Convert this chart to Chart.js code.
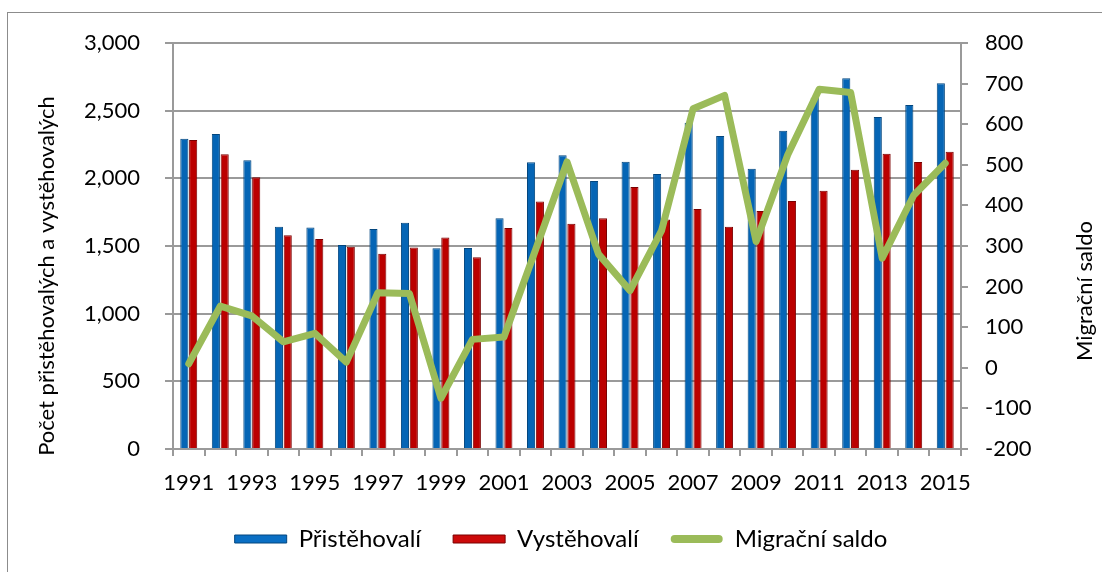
<!DOCTYPE html>
<html>
<head>
<meta charset="utf-8">
<script src="https://cdn.jsdelivr.net/npm/chart.js@4.4.0/dist/chart.umd.min.js"></script>
<style>
    body { margin: 0; overflow: hidden; background: #fff; }
    #wrap { position: relative; width: 1102px; height: 572px; }
    #frame { position: absolute; left: 7px; top: 12px; right: -10px; bottom: -10px; border: 1px solid #8c8c8c; }
    canvas { position: absolute; left: 0; top: 0; }
</style>
</head>
<body>
<div id="wrap">
    <div id="frame"></div>
    <canvas id="migraceChart" width="1102" height="572"></canvas>
</div>
<script>
const years = ['1991', '1992', '1993', '1994', '1995', '1996', '1997', '1998', '1999', '2000',
    '2001', '2002', '2003', '2004', '2005', '2006', '2007', '2008', '2009', '2010',
    '2011', '2012', '2013', '2014', '2015'];
const pristehovali = [2292, 2328, 2133, 1643, 1636, 1508, 1626, 1672, 1483, 1485,
    1705, 2119, 2171, 1981, 2123, 2032, 2411, 2313, 2071, 2352,
    2595, 2739, 2453, 2542, 2702];
const vystehovali = [2284, 2178, 2008, 1579, 1552, 1495, 1443, 1488, 1562, 1417,
    1633, 1828, 1665, 1705, 1936, 1695, 1774, 1643, 1759, 1833,
    1909, 2064, 2182, 2121, 2197];
const saldo = [10, 152, 128, 64, 85, 14, 185, 183, -75, 70,
    76, 290, 507, 280, 190, 338, 638, 671, 311, 524,
    686, 678, 270, 425, 504];
const leftTitle = 'Počet přistěhovalých a vystěhovalých';
const rightTitle = 'Migrační saldo';

const FONT = 'Lato';
const gridColor = '#9a9a9a';
// legend colours by dataset index: saldo, přistěhovalí, vystěhovalí
const legendFill = ['#9bbb59', '#0a6fc4', '#cc0a0a'];

// titles drawn by hand so they can sit off-centre like in the original
const axisTitles = {
    id: 'axisTitles',
    afterDraw(chart) {
        const c = chart.ctx;
        c.save();
        c.font = `22px ${FONT}`;
        c.fillStyle = '#000';
        c.textAlign = 'center';
        c.textBaseline = 'middle';
        [[leftTitle, 47, 276], [rightTitle, 1085, 291]].forEach(([t, x, y]) => {
            c.save();
            c.translate(x, y);
            c.rotate(-Math.PI / 2);
            c.fillText(t, 0, 0);
            c.restore();
        });
        c.restore();
    }
};

new Chart(document.getElementById('migraceChart'), {
    data: {
        labels: years,
        datasets: [
            {
                type: 'line',
                label: 'Migrační saldo',
                data: saldo,
                yAxisID: 'y2',
                borderColor: '#9bbb59',
                backgroundColor: '#9bbb59',
                borderWidth: 7,
                borderJoinStyle: 'round',
                borderCapStyle: 'round',
                pointRadius: 0,
                tension: 0,
                order: 0
            },
            {
                type: 'bar',
                label: 'Přistěhovalí',
                data: pristehovali,
                yAxisID: 'y',
                backgroundColor: '#0565b5',
                borderColor: '#03467e',
                borderWidth: 1,
                categoryPercentage: 0.56,
                barPercentage: 0.92,
                order: 1
            },
            {
                type: 'bar',
                label: 'Vystěhovalí',
                data: vystehovali,
                yAxisID: 'y',
                backgroundColor: '#bb0000',
                borderColor: '#7a0000',
                borderWidth: 1,
                categoryPercentage: 0.56,
                barPercentage: 0.92,
                order: 1
            }
        ]
    },
    options: {
        responsive: false,
        animation: false,
        layout: { padding: { top: 43, bottom: 11, left: 20, right: 0 } },
        scales: {
            x: {
                offset: true,
                afterFit: s => { s.height = 46; },
                grid: { drawOnChartArea: false, color: gridColor, lineWidth: 2, tickLength: 7 },
                border: { color: gridColor, width: 2 },
                ticks: {
                    autoSkip: false, maxRotation: 0, minRotation: 0, padding: 14,
                    color: '#000', font: { family: FONT, size: 22 },
                    callback: (v, i) => (i % 2 === 0 ? years[i] : '')
                }
            },
            y: {
                position: 'left',
                min: 0, max: 3000,
                afterFit: s => { s.width = 153; },
                grid: { color: gridColor, lineWidth: 2, tickLength: 8 },
                border: { color: gridColor, width: 2 },
                ticks: {
                    stepSize: 500, padding: 25, color: '#000',
                    font: { family: FONT, size: 22 },
                    callback: v => v.toLocaleString('en-US')
                }
            },
            y2: {
                position: 'right',
                min: -200, max: 800,
                afterFit: s => { s.width = 141; },
                grid: { drawOnChartArea: false, color: gridColor, lineWidth: 2, tickLength: 7 },
                border: { color: gridColor, width: 2 },
                ticks: {
                    stepSize: 100, padding: 17, color: '#000',
                    font: { family: FONT, size: 22 }
                }
            }
        },
        plugins: {
            tooltip: { enabled: false },
            legend: {
                position: 'bottom',
                labels: {
                    boxWidth: 52,
                    boxHeight: 8,
                    padding: 32,
                    useBorderRadius: true,
                    color: '#000',
                    font: { family: FONT, size: 24 },
                    generateLabels: chart => [1, 2, 0].map(i => {
                        const ds = chart.data.datasets[i];
                        return {
                            text: ds.label,
                            fillStyle: legendFill[i],
                            strokeStyle: ds.borderColor,
                            lineWidth: i === 0 ? 0 : 1,
                            borderRadius: i === 0 ? 4 : 0,
                            fontColor: '#000',
                            hidden: false,
                            datasetIndex: i
                        };
                    })
                }
            }
        }
    },
    plugins: [axisTitles]
});
</script>
</body>
</html>
